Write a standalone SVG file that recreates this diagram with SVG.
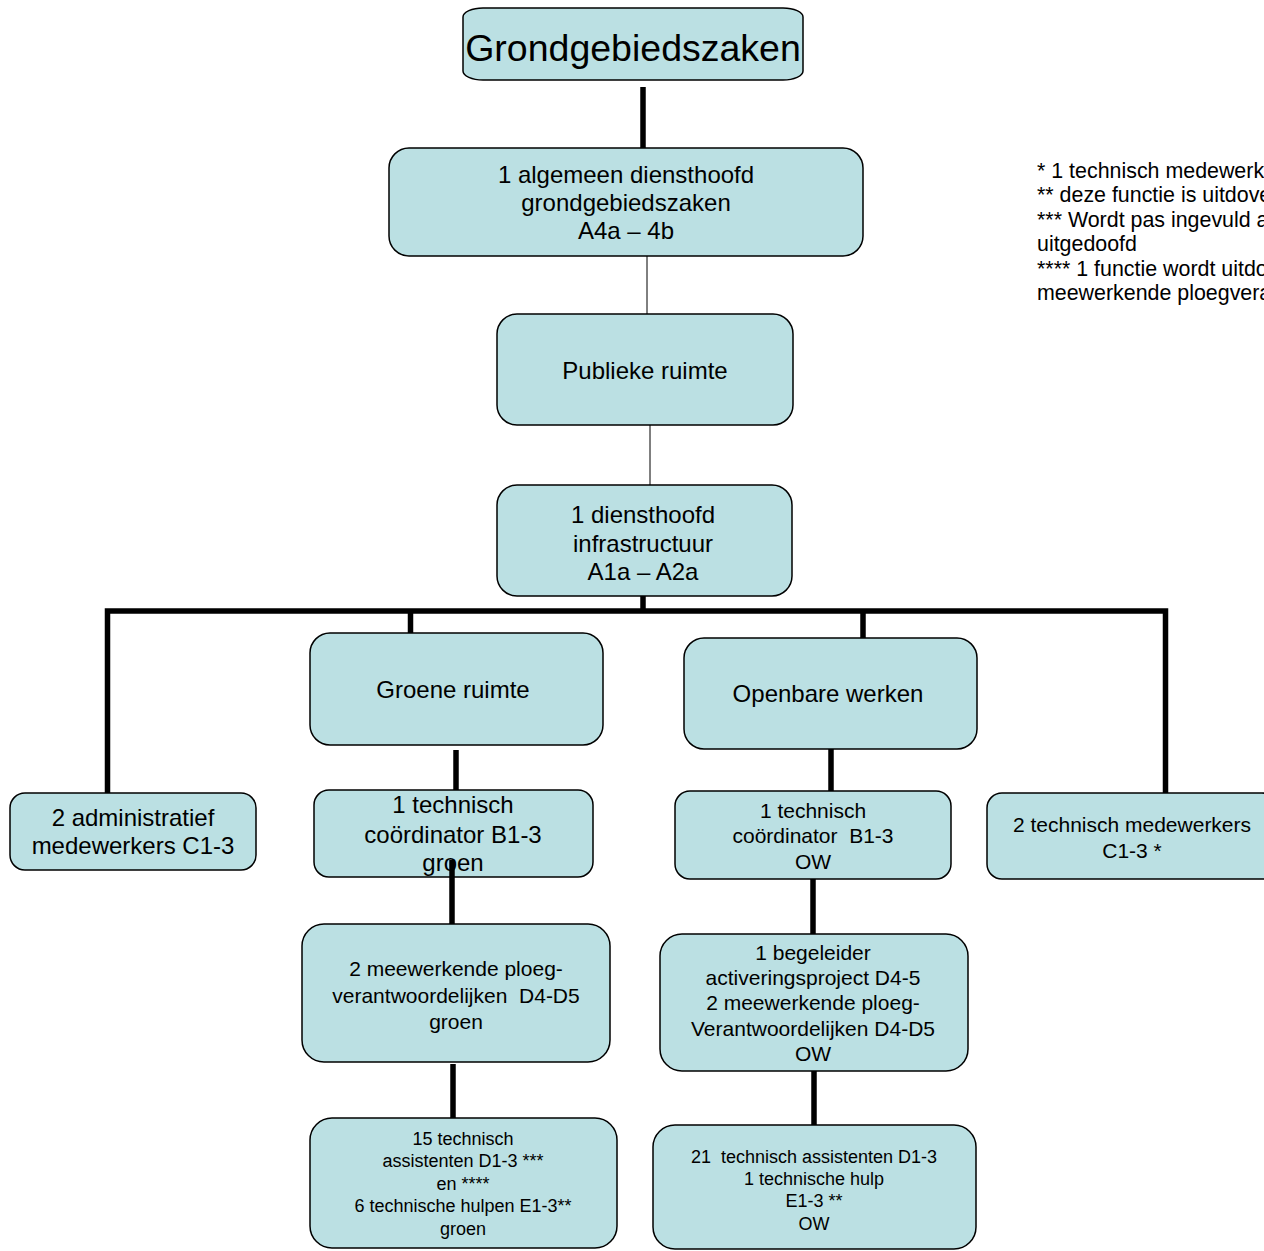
<svg xmlns="http://www.w3.org/2000/svg" width="1264" height="1251" viewBox="0 0 1264 1251">
<style>
.box{fill:#BBE0E3;stroke:#000;stroke-width:1.5}
text{font-family:"Liberation Sans",Arial,sans-serif;fill:#000;text-anchor:middle}
.t24{font-size:24px}
.t21{font-size:21px}
.t18{font-size:18px}
.note{font-size:21.4px;text-anchor:start}
.thick{stroke:#000;stroke-width:5.5;fill:none}
.thin{stroke:#000;stroke-width:1;fill:none}
</style>
<rect width="1264" height="1251" fill="#fff"/>
<g id="nodes">
<g id="n-title">
<rect class="box" x="463" y="8" width="340" height="72" rx="20" ry="9"/>
<text x="633" y="61" style="font-size:37.5px">Grondgebiedszaken</text>
</g>
<g id="n-algemeen">
<rect class="box" x="389" y="148" width="474" height="108" rx="20"/>
<text class="t24" x="626" y="183">1 algemeen diensthoofd</text>
<text class="t24" x="626" y="211">grondgebiedszaken</text>
<text class="t24" x="626" y="239">A4a – 4b</text>
</g>
<g id="n-publieke">
<rect class="box" x="497" y="314" width="296" height="111" rx="20"/>
<text class="t24" x="645" y="379">Publieke ruimte</text>
</g>
<g id="n-infra">
<rect class="box" x="497" y="485" width="295" height="111" rx="20"/>
<text class="t24" x="643" y="523">1 diensthoofd</text>
<text class="t24" x="643" y="552">infrastructuur</text>
<text class="t24" x="643" y="580">A1a – A2a</text>
</g>
<g id="n-admin">
<rect class="box" x="10" y="793" width="246" height="77" rx="15"/>
<text class="t24" x="133" y="826">2 administratief</text>
<text class="t24" x="133" y="854">medewerkers C1-3</text>
</g>
<g id="n-groene">
<rect class="box" x="310" y="633" width="293" height="112" rx="20"/>
<text class="t24" x="453" y="698">Groene ruimte</text>
</g>
<g id="n-openbare">
<rect class="box" x="684" y="638" width="293" height="111" rx="20"/>
<text class="t24" x="828" y="702">Openbare werken</text>
</g>
<g id="n-techmed">
<rect class="box" x="987" y="793" width="290" height="86" rx="15"/>
<text class="t21" x="1132" y="832">2 technisch medewerkers</text>
<text class="t21" x="1132" y="858">C1-3 *</text>
</g>
<g id="n-coord-groen">
<rect class="box" x="314" y="790" width="279" height="87" rx="15"/>
<text class="t24" x="453" y="813">1 technisch</text>
<text class="t24" x="453" y="843">coördinator B1-3</text>
<text class="t24" x="453" y="871">groen</text>
</g>
<g id="n-coord-ow">
<rect class="box" x="675" y="791" width="276" height="88" rx="15"/>
<text class="t21" x="813" y="818">1 technisch</text>
<text class="t21" x="813" y="843" xml:space="preserve">coördinator  B1-3</text>
<text class="t21" x="813" y="869">OW</text>
</g>
<g id="n-ploeg-groen">
<rect class="box" x="302" y="924" width="308" height="138" rx="22"/>
<text class="t21" x="456" y="976">2 meewerkende ploeg-</text>
<text class="t21" x="456" y="1003" xml:space="preserve">verantwoordelijken  D4-D5</text>
<text class="t21" x="456" y="1029">groen</text>
</g>
<g id="n-ploeg-ow">
<rect class="box" x="660" y="934" width="308" height="137" rx="22"/>
<text class="t21" x="813" y="960">1 begeleider</text>
<text class="t21" x="813" y="985">activeringsproject D4-5</text>
<text class="t21" x="813" y="1010">2 meewerkende ploeg-</text>
<text class="t21" x="813" y="1036">Verantwoordelijken D4-D5</text>
<text class="t21" x="813" y="1061">OW</text>
</g>
<g id="n-assist-groen">
<rect class="box" x="310" y="1118" width="307" height="130" rx="22"/>
<text class="t18" x="463" y="1145">15 technisch</text>
<text class="t18" x="463" y="1167">assistenten D1-3 ***</text>
<text class="t18" x="463" y="1190">en ****</text>
<text class="t18" x="463" y="1212">6 technische hulpen E1-3**</text>
<text class="t18" x="463" y="1235">groen</text>
</g>
<g id="n-assist-ow">
<rect class="box" x="653" y="1125" width="323" height="124" rx="22"/>
<text class="t18" x="814" y="1163" xml:space="preserve">21  technisch assistenten D1-3</text>
<text class="t18" x="814" y="1185">1 technische hulp</text>
<text class="t18" x="814" y="1207">E1-3 **</text>
<text class="t18" x="814" y="1230">OW</text>
</g>
</g>
<g id="notes">
<text class="note" x="1037" y="178">* 1 technisch medewerk</text>
<text class="note" x="1037" y="202">** deze functie is uitdove</text>
<text class="note" x="1037" y="227">*** Wordt pas ingevuld a</text>
<text class="note" x="1037" y="251">uitgedoofd</text>
<text class="note" x="1037" y="276">**** 1 functie wordt uitdo</text>
<text class="note" x="1037" y="300">meewerkende ploegvera</text>
</g>
<g id="connectors">
<line class="thick" x1="643" y1="87" x2="643" y2="148"/>
<line class="thin" x1="647" y1="256" x2="647" y2="314"/>
<line class="thin" x1="650" y1="425" x2="650" y2="485"/>
<line class="thick" x1="643" y1="596" x2="643" y2="611"/>
<path class="thick" d="M107.5,793 V611 H1165.5 V793" stroke-width="6"/>
<line class="thick" x1="410.5" y1="611" x2="410.5" y2="633"/>
<line class="thick" x1="863" y1="611" x2="863" y2="638"/>
<line class="thick" x1="456" y1="750" x2="456" y2="790"/>
<line class="thick" x1="452" y1="860" x2="452" y2="924"/>
<line class="thick" x1="453" y1="1064" x2="453" y2="1118"/>
<line class="thick" x1="831" y1="749" x2="831" y2="791"/>
<line class="thick" x1="813" y1="879" x2="813" y2="934"/>
<line class="thick" x1="814" y1="1071" x2="814" y2="1125"/>
</g>
</svg>
